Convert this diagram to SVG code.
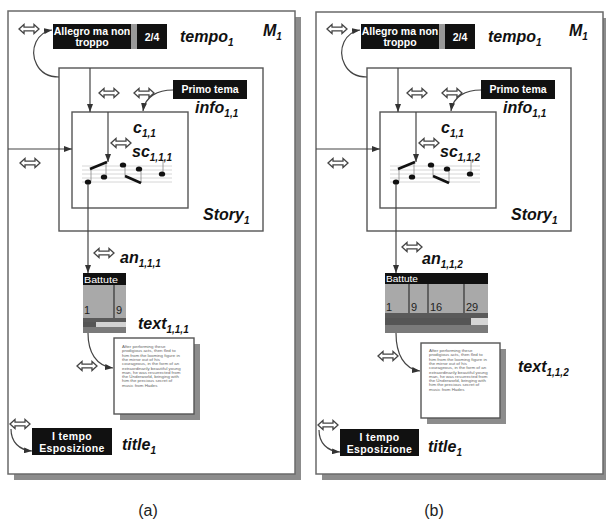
<svg xmlns="http://www.w3.org/2000/svg" width="606" height="522" viewBox="0 0 606 522">
<style>
.panel{fill:#fff;stroke:#6a6a6a;stroke-width:1.5}
.shadow{fill:#8c8c8c}
.box{fill:#fff;stroke:#555;stroke-width:1.4}
.blk{fill:#111}
.wt{fill:#fff;font-family:"Liberation Sans",Arial,sans-serif;font-weight:bold;font-size:10.5px}
.hd{fill:#fff;font-family:"Liberation Sans",Arial,sans-serif;font-size:9px}
.num{fill:#222;font-family:"Liberation Sans",Arial,sans-serif;font-size:11px}
.lbl{font-family:"Liberation Sans",Arial,sans-serif;font-weight:bold;font-style:italic;font-size:16px;fill:#111}
.sub{font-size:10px}
.conn{fill:none;stroke:#444;stroke-width:1.2}
.arr{marker-end:url(#ah)}
.dbl{fill:#fff;stroke:#444;stroke-width:1.3}
.staff{stroke:#ccc;stroke-width:0.8}
.stem{stroke:#888;stroke-width:0.8}
.beam{stroke:#111;stroke-width:2.6}
.page{fill:#666;font-family:"Liberation Sans",Arial,sans-serif;font-size:4.4px}
.cap{fill:#222;font-family:"Liberation Sans",Arial,sans-serif;font-size:16px}
</style>
<defs>
<marker id="ah" viewBox="0 0 8 6" refX="8" refY="3" markerWidth="8" markerHeight="6" markerUnits="userSpaceOnUse" orient="auto"><path d="M0,0 L8,3 L0,6 z" fill="#333"/></marker>
<path id="dblp" class="dbl" d="M-10,0 L-5,-4.5 L-5,-1.8 L5,-1.8 L5,-4.5 L10,0 L5,4.5 L5,1.8 L-5,1.8 L-5,4.5 Z"/>
<g id="music">
<g class="staff"><line x1="82" y1="166" x2="172" y2="166"/><line x1="82" y1="170" x2="172" y2="170"/><line x1="82" y1="174" x2="172" y2="174"/><line x1="82" y1="178" x2="172" y2="178"/><line x1="82" y1="182" x2="172" y2="182"/></g>
<g class="stem"><line x1="91" y1="169" x2="91" y2="181"/><line x1="106" y1="162" x2="106" y2="176"/><line x1="125" y1="164" x2="125" y2="176"/><line x1="141" y1="168" x2="141" y2="183"/><line x1="163" y1="160" x2="163" y2="174"/></g>
<line class="beam" x1="90" y1="169" x2="107" y2="162"/>
<line class="beam" x1="125" y1="176" x2="141" y2="183"/>
<g fill="#111"><ellipse cx="88" cy="182" rx="3.2" ry="2.6"/><ellipse cx="104" cy="177" rx="3.2" ry="2.6"/><ellipse cx="123" cy="165" rx="3.2" ry="2.6"/><ellipse cx="139" cy="169" rx="3.2" ry="2.6"/><ellipse cx="162" cy="174" rx="3.2" ry="2.6"/></g>
</g>
<g id="pagetext">
<text class="page" x="0" y="0">After performing these</text>
<text class="page" x="0" y="4.3">prodigious acts, then fled to</text>
<text class="page" x="0" y="8.6">him from the looming figure in</text>
<text class="page" x="0" y="12.9">the mirror out of his</text>
<text class="page" x="0" y="17.2">courageous, in the form of an</text>
<text class="page" x="0" y="21.5">extraordinarily beautiful young</text>
<text class="page" x="0" y="25.8">man, he was resurrected from</text>
<text class="page" x="0" y="30.1">the Underworld, bringing with</text>
<text class="page" x="0" y="34.4">him the precious secret of</text>
<text class="page" x="0" y="38.7">music from Hades</text>
</g>
</defs>

<!-- Panel (a) -->
<g id="panel-a">
<g id="a-M1">
<rect class="shadow" x="14" y="17" width="287" height="463"/>
<rect class="panel" x="8" y="11" width="287" height="463"/>
<text class="lbl" x="263" y="36">M<tspan class="sub" dy="4">1</tspan></text>
</g>
<g id="a-tempo">
<rect class="blk" x="53" y="24" width="78" height="25"/>
<rect fill="#999" x="131" y="24" width="6" height="25"/>
<rect class="blk" x="137" y="24" width="30" height="25"/>
<text class="wt" x="92" y="35" text-anchor="middle">Allegro ma non</text>
<text class="wt" x="92" y="46" text-anchor="middle">troppo</text>
<text class="wt" x="152" y="41" text-anchor="middle">2/4</text>
<text class="lbl" x="180" y="42">tempo<tspan class="sub" dy="4">1</tspan></text>
</g>
<g id="a-story">
<rect class="box" x="59" y="68" width="204" height="163"/>
<text class="lbl" x="203" y="220">Story<tspan class="sub" dy="4">1</tspan></text>
</g>
<g id="a-info">
<rect class="blk" x="173" y="80" width="74" height="19"/>
<text class="wt" x="210" y="93" text-anchor="middle">Primo tema</text>
<text class="lbl" x="195" y="113">info<tspan class="sub" dy="4">1,1</tspan></text>
</g>
<g id="a-c">
<rect class="box" x="72" y="112" width="116" height="96"/>
<use href="#music"/>
<text class="lbl" x="133" y="133" font-size="15">c<tspan class="sub" dy="4">1,1</tspan></text>
<text class="lbl" x="132" y="157" font-size="15">sc<tspan class="sub" dy="4">1,1,1</tspan></text>
</g>
<g id="a-an">
<rect class="blk" x="83" y="273" width="43" height="12"/>
<text class="hd" x="84" y="283" textLength="34" lengthAdjust="spacingAndGlyphs">Battute</text>
<rect fill="#a9a9a9" x="83" y="285" width="43" height="33"/>
<line x1="114" y1="285" x2="114" y2="318" stroke="#333" stroke-width="1.2"/>
<text class="num" x="84" y="314">1</text>
<text class="num" x="116" y="314">9</text>
<rect fill="#5a5a5a" x="83" y="318" width="43" height="4"/>
<rect fill="#555" x="83" y="322" width="13" height="5"/>
<rect fill="#d2d2d2" x="96" y="322" width="30" height="5"/>
<rect fill="#7a7a7a" x="83" y="327" width="43" height="6"/>
<text class="lbl" x="120" y="263">an<tspan class="sub" dy="4">1,1,1</tspan></text>
</g>
<g id="a-text">
<rect class="shadow" x="120" y="344" width="80" height="76"/>
<rect class="box" x="114" y="338" width="80" height="76"/>
<use href="#pagetext" x="122" y="348"/>
<text class="lbl" x="138" y="329">text<tspan class="sub" dy="4">1,1,1</tspan></text>
</g>
<g id="a-title">
<rect class="blk" x="32" y="428" width="80" height="27"/>
<text class="wt" x="72" y="440" text-anchor="middle" letter-spacing="0.4">I tempo</text>
<text class="wt" x="72" y="452" text-anchor="middle" letter-spacing="0.4">Esposizione</text>
<text class="lbl" x="122" y="450">title<tspan class="sub" dy="4">1</tspan></text>
</g>
<g id="a-connectors">
<path class="conn arr" d="M59,77 C36,77 30,55 36,42 C40,34 45,31 52,30"/>
<path class="conn arr" d="M90,68 V112"/>
<path class="conn arr" d="M173,90 C158,90 145,96 143,111"/>
<path class="conn arr" d="M108,112 V162"/>
<path class="conn arr" d="M8,149 H72"/>
<path class="conn arr" d="M88,184 V273"/>
<path class="conn arr" d="M88,333 C88,352 96,366 113,368"/>
<path class="conn arr" d="M11,429 C11,442 19,450 32,451"/>
<use href="#dblp" x="29" y="29"/>
<use href="#dblp" x="109" y="93"/>
<use href="#dblp" x="144" y="93"/>
<use href="#dblp" x="121" y="143"/>
<use href="#dblp" x="30" y="163"/>
<use href="#dblp" x="104" y="253"/>
<use href="#dblp" x="87" y="366"/>
<use href="#dblp" x="20" y="424"/>
</g>
</g>

<!-- Panel (b) -->
<g id="panel-b" transform="translate(308,0)">
<g id="b-M1">
<rect class="shadow" x="14" y="18" width="287" height="462"/>
<rect class="panel" x="8" y="12" width="287" height="462"/>
<text class="lbl" x="261" y="36">M<tspan class="sub" dy="4">1</tspan></text>
</g>
<g id="b-tempo">
<rect class="blk" x="53" y="24" width="78" height="25"/>
<rect fill="#999" x="131" y="24" width="6" height="25"/>
<rect class="blk" x="137" y="24" width="30" height="25"/>
<text class="wt" x="92" y="35" text-anchor="middle">Allegro ma non</text>
<text class="wt" x="92" y="46" text-anchor="middle">troppo</text>
<text class="wt" x="152" y="41" text-anchor="middle">2/4</text>
<text class="lbl" x="180" y="42">tempo<tspan class="sub" dy="4">1</tspan></text>
</g>
<g id="b-story">
<rect class="box" x="59" y="68" width="204" height="163"/>
<text class="lbl" x="203" y="220">Story<tspan class="sub" dy="4">1</tspan></text>
</g>
<g id="b-info">
<rect class="blk" x="173" y="80" width="74" height="19"/>
<text class="wt" x="210" y="93" text-anchor="middle">Primo tema</text>
<text class="lbl" x="195" y="113">info<tspan class="sub" dy="4">1,1</tspan></text>
</g>
<g id="b-c">
<rect class="box" x="72" y="112" width="116" height="96"/>
<use href="#music"/>
<text class="lbl" x="133" y="133" font-size="15">c<tspan class="sub" dy="4">1,1</tspan></text>
<text class="lbl" x="132" y="157" font-size="15">sc<tspan class="sub" dy="4">1,1,2</tspan></text>
</g>
<g id="b-an">
<rect class="blk" x="77" y="273" width="103" height="11"/>
<text class="hd" x="78" y="282" textLength="32" lengthAdjust="spacingAndGlyphs">Battute</text>
<rect fill="#a9a9a9" x="77" y="284" width="103" height="29"/>
<g stroke="#333" stroke-width="1.2"><line x1="101" y1="284" x2="101" y2="313"/><line x1="120" y1="284" x2="120" y2="313"/><line x1="156" y1="284" x2="156" y2="313"/></g>
<text class="num" x="78" y="311">1</text>
<text class="num" x="103" y="311">9</text>
<text class="num" x="122" y="311">16</text>
<text class="num" x="158" y="311">29</text>
<rect fill="#5a5a5a" x="77" y="313" width="103" height="5"/>
<rect fill="#555" x="77" y="318" width="86" height="7"/>
<rect fill="#d6d6d6" x="163" y="318" width="17" height="7"/>
<rect fill="#7a7a7a" x="77" y="325" width="103" height="8"/>
<text class="lbl" x="114" y="264">an<tspan class="sub" dy="4">1,1,2</tspan></text>
</g>
<g id="b-text">
<rect class="shadow" x="119" y="349" width="79" height="75"/>
<rect class="box" x="113" y="343" width="79" height="75"/>
<use href="#pagetext" x="121" y="352"/>
<text class="lbl" x="210" y="372">text<tspan class="sub" dy="4">1,1,2</tspan></text>
</g>
<g id="b-title">
<rect class="blk" x="32" y="429" width="79" height="27"/>
<text class="wt" x="71.5" y="441" text-anchor="middle" letter-spacing="0.4">I tempo</text>
<text class="wt" x="71.5" y="453" text-anchor="middle" letter-spacing="0.4">Esposizione</text>
<text class="lbl" x="120" y="452">title<tspan class="sub" dy="4">1</tspan></text>
</g>
<g id="b-connectors">
<path class="conn arr" d="M59,77 C36,77 30,55 36,42 C40,34 45,31 52,30"/>
<path class="conn arr" d="M90,68 V112"/>
<path class="conn arr" d="M173,90 C158,90 145,96 143,111"/>
<path class="conn arr" d="M108,112 V162"/>
<path class="conn arr" d="M8,149 H72"/>
<path class="conn arr" d="M88,184 V273"/>
<path class="conn arr" d="M88,333 C88,354 96,369 112,371"/>
<path class="conn arr" d="M11,430 C11,443 19,451 32,452"/>
<use href="#dblp" x="29" y="29"/>
<use href="#dblp" x="109" y="93"/>
<use href="#dblp" x="144" y="93"/>
<use href="#dblp" x="121" y="143"/>
<use href="#dblp" x="30" y="163"/>
<use href="#dblp" x="104" y="247"/>
<use href="#dblp" x="80" y="356"/>
<use href="#dblp" x="20" y="425"/>
</g>
</g>

<text class="cap" x="148" y="516" text-anchor="middle">(a)</text>
<text class="cap" x="434" y="516" text-anchor="middle">(b)</text>
</svg>
